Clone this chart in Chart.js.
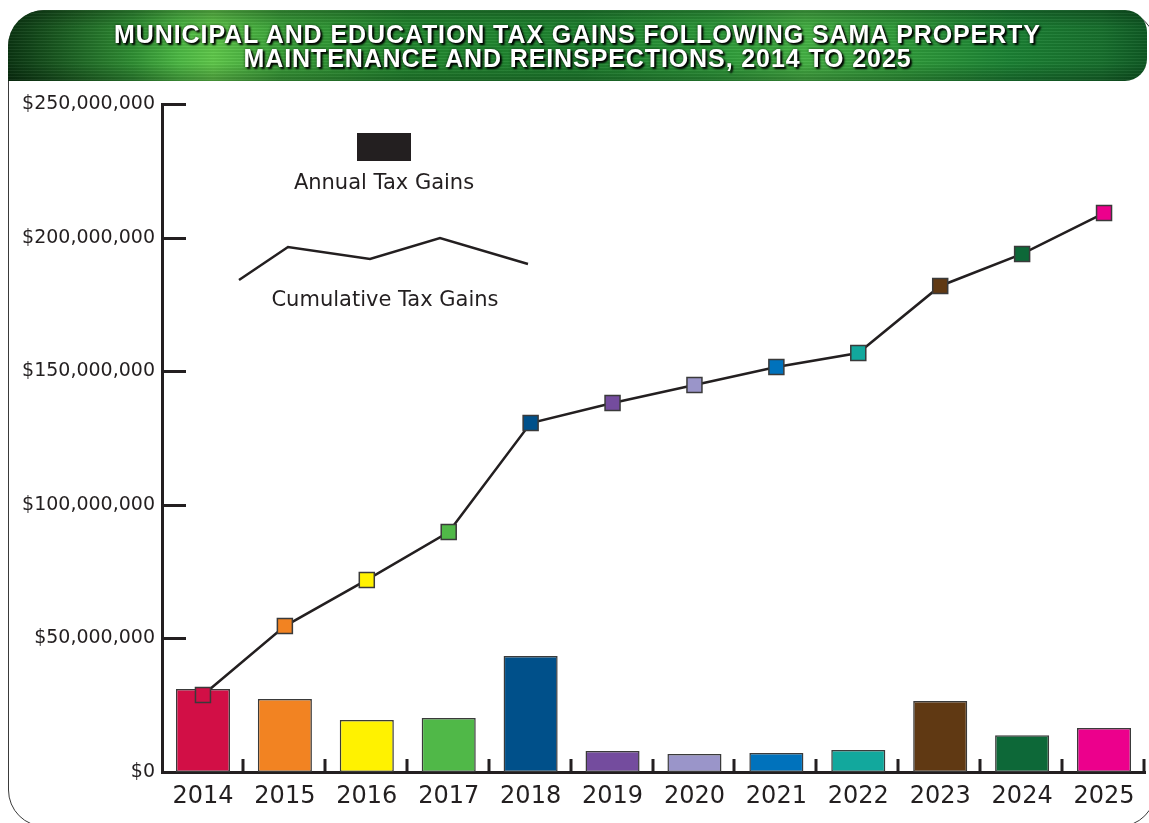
<!DOCTYPE html>
<html>
<head>
<meta charset="utf-8">
<title>Municipal and Education Tax Gains</title>
<script src="https://cdn.jsdelivr.net/npm/chart.js@4.4.1/dist/chart.umd.min.js"></script>
<style>
    html, body { margin: 0; padding: 0; background: #fff; }
    body { width: 1149px; height: 823px; position: relative; overflow: hidden; font-family: "DejaVu Sans", sans-serif; }
    #frame {
        position: absolute; left: 8px; top: 10px; width: 1148px; height: 817px;
        border: 1.5px solid #3a3a3a; border-radius: 37px; box-sizing: border-box;
    }
    #banner {
        position: absolute; left: 8px; top: 10px; width: 1139px; height: 71px;
        border-radius: 36px 22px 22px 0 / 36px 22px 22px 0;
        background:
            repeating-linear-gradient(to bottom, rgba(255,255,255,0.05) 0px, rgba(255,255,255,0.05) 1px, rgba(0,0,0,0.06) 1px, rgba(0,0,0,0.06) 3px),
            linear-gradient(to bottom, rgba(0,0,0,0.25) 0%, rgba(0,0,0,0) 25%, rgba(0,0,0,0) 75%, rgba(0,0,0,0.25) 100%),
            linear-gradient(to right, #0b3512 0%, #1b5e22 5%, #2f8f33 11%, #4cb944 15%, #5fc84a 18%, #3aa23a 24%, #238a30 35%, #1f8430 50%, #2d9b3a 62%, #45b244 70%, #2f9b3a 79%, #1b8234 88%, #17702d 96%, #0f5a24 100%);
    }
    #banner h1 {
        margin: 0; padding-top: 13px; text-align: center; color: #fff;
        font-family: "Liberation Sans", Arial, sans-serif; font-weight: bold; font-size: 25px; line-height: 23.5px;
        letter-spacing: 0.9px;
        text-shadow: 2px 2px 2px #000, 0 0 3px rgba(0,0,0,0.6);
    }
    #chart { position: absolute; left: 0; top: 0; }
</style>
</head>
<body>
<div id="frame"></div>
<canvas id="chart" width="1149" height="823"></canvas>
<div id="banner"><h1>MUNICIPAL AND EDUCATION TAX GAINS FOLLOWING SAMA PROPERTY<br>MAINTENANCE AND REINSPECTIONS, 2014 TO 2025</h1></div>
<script>
// Chart data
const years = ['2014', '2015', '2016', '2017', '2018', '2019', '2020', '2021', '2022', '2023', '2024', '2025'];
const annualGains = [31100000, 27300000, 19500000, 20200000, 43400000, 7900000, 6700000, 7100000, 8200000, 26600000, 13800000, 16500000];
const cumulativeGains = [28800000, 54600000, 71900000, 89800000, 130600000, 138100000, 144800000, 151600000, 156800000, 181900000, 193900000, 209200000];
const yearColors = ['#d20f46', '#f28322', '#fff200', '#50b848', '#00508a', '#744c9e', '#9a95c9', '#0072bc', '#12a89d', '#603913', '#0d6838', '#ec008c'];
const yTickValues = [0, 50000000, 100000000, 150000000, 200000000, 250000000];

const ink = '#231f20';

// Tick marks in this graphic point into the plot, so draw them ourselves
const innerTicks = {
    id: 'innerTicks',
    afterDraw(chart) {
        const ctx = chart.ctx;
        const xs = chart.scales.x;
        const ys = chart.scales.y;
        const bottom = chart.chartArea.bottom;
        const left = chart.chartArea.left;
        ctx.save();
        ctx.strokeStyle = ink;
        ctx.lineWidth = 3;
        const half = (xs.getPixelForValue(1) - xs.getPixelForValue(0)) / 2;
        years.forEach((y, i) => {
            const x = Math.round(xs.getPixelForValue(i) + half) - 1;
            ctx.beginPath();
            ctx.moveTo(x, bottom);
            ctx.lineTo(x, bottom - 13);
            ctx.stroke();
        });
        yTickValues.forEach(v => {
            if (v === 0) return;
            const py = Math.round(ys.getPixelForValue(v)) + 0.5;
            ctx.beginPath();
            ctx.moveTo(left, py);
            ctx.lineTo(left + 24, py);
            ctx.stroke();
        });
        ctx.restore();
    }
};

// Free-floating legend inside the plot
const floatingLegend = {
    id: 'floatingLegend',
    afterDraw(chart) {
        const ctx = chart.ctx;
        ctx.save();
        ctx.fillStyle = ink;
        ctx.fillRect(357, 133, 54, 28);
        ctx.font = '21px "DejaVu Sans"';
        ctx.textAlign = 'center';
        ctx.textBaseline = 'alphabetic';
        ctx.fillText(chart.data.datasets[1].label, 384, 189);

        ctx.strokeStyle = ink;
        ctx.lineWidth = 2.5;
        ctx.beginPath();
        ctx.moveTo(239, 280);
        ctx.lineTo(288, 247);
        ctx.lineTo(370, 259);
        ctx.lineTo(440, 238);
        ctx.lineTo(528, 264);
        ctx.stroke();
        ctx.fillText(chart.data.datasets[0].label, 385, 306);
        ctx.restore();
    }
};

new Chart(document.getElementById('chart'), {
    data: {
        labels: years,
        datasets: [
            {
                type: 'line',
                label: 'Cumulative Tax Gains',
                data: cumulativeGains,
                order: 0,
                borderColor: ink,
                borderWidth: 2.5,
                tension: 0,
                pointStyle: 'rect',
                pointRadius: 10.6,
                pointBackgroundColor: yearColors,
                pointBorderColor: '#3a3a3a',
                pointBorderWidth: 1.5,
                clip: false
            },
            {
                type: 'bar',
                label: 'Annual Tax Gains',
                data: annualGains,
                order: 1,
                backgroundColor: yearColors,
                borderColor: '#3a3a3a',
                borderWidth: 1.5,
                borderSkipped: false,
                barPercentage: 0.66,
                categoryPercentage: 1
            }
        ]
    },
    options: {
        responsive: false,
        animation: false,
        layout: {
            autoPadding: false,
            padding: { top: 104, right: 4, bottom: 0, left: 0 }
        },
        scales: {
            x: {
                grid: { display: false, drawTicks: false },
                border: { display: true, color: ink, width: 3 },
                ticks: {
                    color: ink,
                    padding: 10,
                    font: { family: '"DejaVu Sans"', size: 24 }
                },
                afterFit(scale) {
                    scale.height = 51;
                    scale.paddingLeft = 0;
                    scale.paddingRight = 0;
                }
            },
            y: {
                min: 0,
                max: 250000000,
                grid: { display: false, drawTicks: false },
                border: { display: true, color: ink, width: 3 },
                afterBuildTicks(scale) {
                    scale.ticks = yTickValues.map(v => ({ value: v }));
                },
                ticks: {
                    color: ink,
                    padding: 7,
                    font: { family: '"DejaVu Sans"', size: 19 },
                    callback: v => '$' + Number(v).toLocaleString('en-US')
                },
                afterFit(scale) { scale.width = 162; }
            }
        },
        plugins: {
            legend: { display: false },
            title: { display: false },
            tooltip: { enabled: false }
        }
    },
    plugins: [innerTicks, floatingLegend]
});
</script>
</body>
</html>
